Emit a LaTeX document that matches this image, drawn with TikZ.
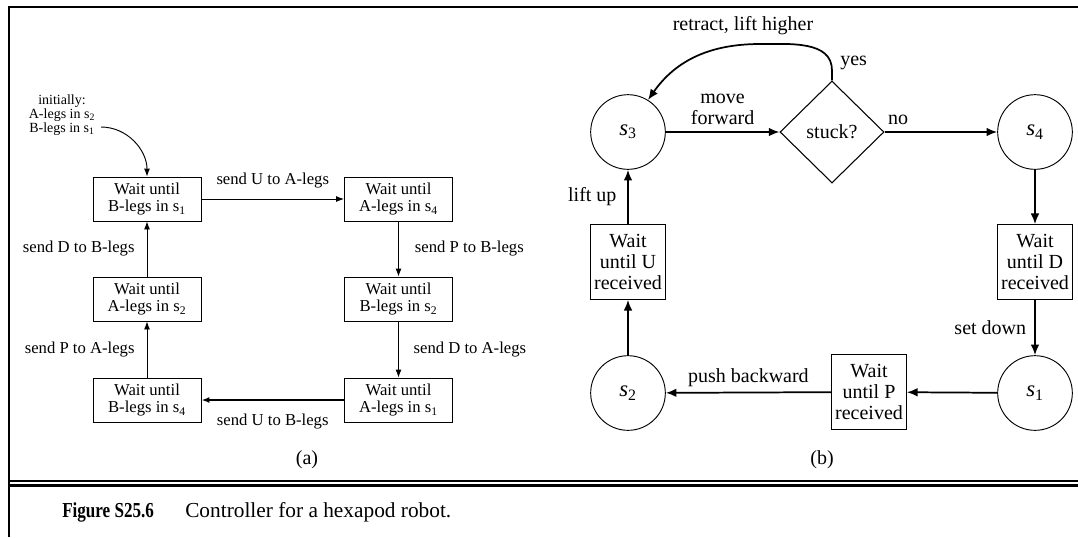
\documentclass[tikz,border=0pt]{standalone}
\usepackage{fontspec}
\setmainfont{Liberation Serif}
\usetikzlibrary{arrows.meta,shapes.geometric}
\newcommand\ssub[1]{\textsubscript{#1}}
\begin{document}
\begin{tikzpicture}[x=0.75pt,y=-0.75pt,
  afont/.style={font=\fontsize{12.5}{13}\selectfont},
  bfont/.style={font=\fontsize{15}{15.5}\selectfont},
  abox/.style={draw,line width=0.7pt,minimum width=81pt,minimum height=33pt,inner sep=0pt,align=center,afont},
  bbox/.style={draw,line width=0.8pt,minimum width=56pt,minimum height=56pt,inner sep=0pt,align=center,bfont},
  circ/.style={draw,circle,line width=0.7pt,minimum size=56pt,inner sep=0pt,font=\fontsize{17}{17}\selectfont},
  dia/.style={draw,diamond,line width=0.8pt,minimum width=78pt,minimum height=76.5pt,inner sep=0pt,bfont},
  aarr/.style={line width=0.7pt,-{Latex[length=6pt,width=4.5pt]}},
  barr/.style={line width=1.3pt,-{Latex[length=8pt,width=6.5pt]}},
  lbl/.style={afont,inner sep=0pt},
  blbl/.style={bfont,inner sep=0pt}]
\useasboundingbox (0,0) rectangle (1078,537);
% frame
\draw[line width=2.2pt] (9,537) -- (9,7) -- (1078,7);
\draw[line width=1.6pt] (9,481) -- (1078,481);
\draw[line width=1.6pt] (9,485.5) -- (1078,485.5);
% ---------- (a)
\node[abox] (a1) at (147,199) {Wait until\\B-legs in s\ssub1};
\node[abox] (a2) at (398.5,199) {Wait until\\A-legs in s\ssub4};
\node[abox] (a3) at (398.5,299) {Wait until\\B-legs in s\ssub2};
\node[abox] (a4) at (398.5,400) {Wait until\\A-legs in s\ssub1};
\node[abox] (a6) at (147,400) {Wait until\\B-legs in s\ssub4};
\node[abox] (a5) at (147,299) {Wait until\\A-legs in s\ssub2};
\node[align=center,inner sep=0pt,font=\fontsize{10.5}{10.5}\selectfont] (init) at (62,115) {initially:\\A-legs in s\ssub2\\B-legs in s\ssub1};
\coordinate (c0) at (101,127);
\draw[aarr] (c0) to[out=0,in=90] (a1.north);
\draw[aarr] (a1) -- node[lbl,above=8pt] {send U to A-legs} (a2);
\draw[aarr] (a2) -- node[lbl,anchor=west,xshift=12pt] {send P to B-legs} (a3);
\draw[aarr] (a3) -- node[lbl,anchor=west,xshift=11pt] {send D to A-legs} (a4);
\draw[aarr,line width=1.3pt] (a4) -- node[lbl,below=10pt] {send U to B-legs} (a6);
\draw[aarr] (a6) -- node[lbl,anchor=east,xshift=-9pt] {send P to A-legs} (a5);
\draw[aarr] (a5) -- node[lbl,anchor=east,xshift=-9pt] {send D to B-legs} (a1);
\node[font=\fontsize{15}{15}\selectfont] (la) at (307,460) {(a)};
% ---------- (b)
\node[circ] (s3) at (628,132) {\textit{s}\ssub3};
\node[dia] (d) at (832,132) {stuck?};
\node[circ] (s4) at (1035,132) {\textit{s}\ssub4};
\node[bbox] (bU) at (628,262) {Wait\\until U\\received};
\node[bbox] (bD) at (1035,262) {Wait\\until D\\received};
\node[circ] (s1) at (1035,393) {\textit{s}\ssub1};
\node[bbox] (bP) at (869,392) {Wait\\until P\\received};
\node[circ] (s2) at (628,393) {\textit{s}\ssub2};
\draw[barr] (s3) -- node[blbl,above=5pt,align=center] {move\\forward} (d);
\draw[barr] (d) -- node[blbl,pos=0.12,above=5pt] {no} (s4);
\draw[barr] (s4) -- (bD);
\draw[barr] (bD) -- node[blbl,left=6pt] {set down} (s1);
\draw[barr] (s1) -- (bP);
\draw[barr] (bP) -- node[blbl,above=4pt] {push backward} (s2);
\draw[barr] (s2) -- (bU);
\draw[barr] (bU) -- node[blbl,left=8pt] {lift up} (s3);
\coordinate (ct) at (760,44);
\draw[barr] (d.north) -- ++(0,-10) to[out=90,in=0] (ct) to[out=180,in=55] (s3.58);
\node[blbl] (ret) at (743,26) {retract, lift higher};
\node[blbl,anchor=west] (yes) at (840,63) {yes};
\node[font=\fontsize{15}{15}\selectfont] (lb) at (822,460) {(b)};
% caption
\node[anchor=west,inner sep=0pt,font=\fontsize{16}{16}\selectfont\bfseries] (fig) at (62,512) {\scalebox{0.8}[1]{Figure S25.6}};
\node[anchor=west,inner sep=0pt,font=\fontsize{16}{16}\selectfont] (cap) at (185,512) {Controller for a hexapod robot.};
\end{tikzpicture}
\end{document}
